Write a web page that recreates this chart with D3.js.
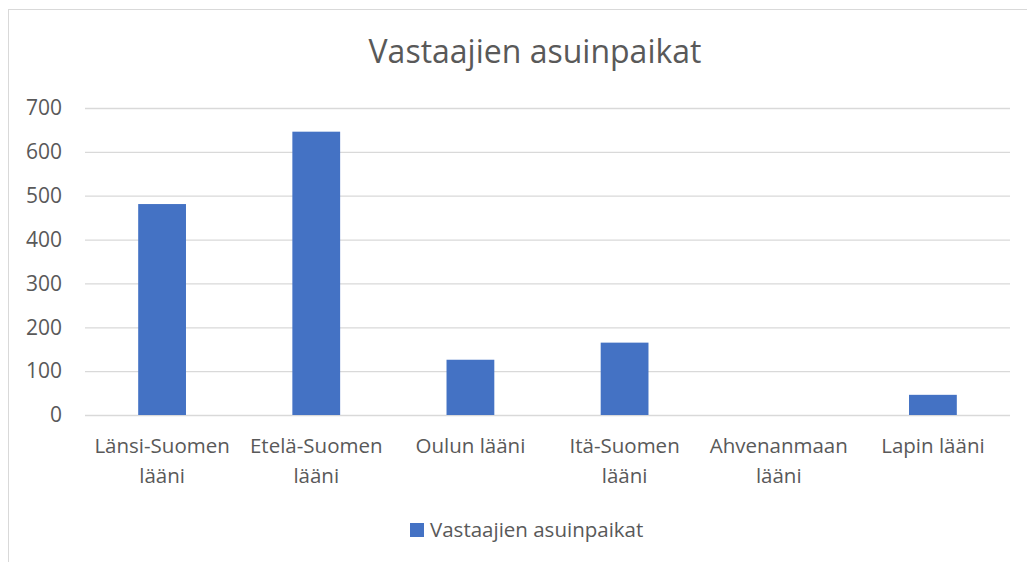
<!DOCTYPE html>
<html>
<head>
<meta charset="utf-8">
<script src="https://cdn.jsdelivr.net/npm/d3@7"></script>
<style>
  body { margin: 0; background: #fff; }
  svg { display: block; font-family: "Open Sans", "Noto Sans", sans-serif; }
</style>
</head>
<body>
<div id="chart"></div>
<script>
// chart data
const categories = ["Länsi-Suomen lääni", "Etelä-Suomen lääni", "Oulun lääni",
                    "Itä-Suomen lääni", "Ahvenanmaan lääni", "Lapin lääni"];
const values = [481, 646, 126, 165, 0, 46];
const yTicks = [0, 100, 200, 300, 400, 500, 600, 700];
const seriesName = "Vastaajien asuinpaikat";
const chartTitle = "Vastaajien asuinpaikat";

const WIDTH = 1027, HEIGHT = 562;
const margin = {top: 108, right: 17, bottom: 147, left: 85};
const textColor = "#595959";

let svg = d3.select("#chart")
    .append("svg")
    .attr("width", WIDTH)
    .attr("height", HEIGHT);

// outer chart border (runs off the right and bottom edges)
svg.append("rect")
    .attr("x", 8.5).attr("y", 9.5)
    .attr("width", WIDTH + 20).attr("height", HEIGHT + 20)
    .attr("fill", "none")
    .attr("stroke", "#d9d9d9");

let x = d3.scaleBand()
    .domain(categories)
    .range([margin.left, WIDTH - margin.right])
    .paddingInner(0.69)
    .paddingOuter(0.345);

let y = d3.scaleLinear()
    .domain([0, 700])
    .range([HEIGHT - margin.bottom, margin.top]);

// gridlines + y labels
let yAxis = svg.append("g")
    .attr("transform", `translate(${margin.left},0)`)
    .call(d3.axisLeft(y).tickValues(yTicks)
        .tickSize(-(WIDTH - margin.left - margin.right))
        .tickPadding(23));
yAxis.select(".domain").remove();
yAxis.selectAll("line").attr("stroke", "#d9d9d9").attr("stroke-width", 1.3);
yAxis.selectAll("text")
    .attr("fill", textColor)
    .style("font-size", "21px")
    .style("font-family", "'Open Sans', sans-serif");

// bars
svg.selectAll("rect.bar")
    .data(values)
    .enter()
    .append("rect")
    .attr("class", "bar")
    .attr("x", (d, i) => x(categories[i]))
    .attr("y", d => y(d))
    .attr("width", x.bandwidth())
    .attr("height", d => y(0) - y(d))
    .attr("fill", "#4472c4");

// category labels, wrapped to the band step
let xAxis = svg.append("g")
    .attr("transform", `translate(0,${y(0)})`)
    .call(d3.axisBottom(x).tickSize(0).tickPadding(0));
xAxis.select(".domain").remove();
xAxis.selectAll("text").each(function(d) {
    let t = d3.select(this);
    t.text(null).attr("y", 0).attr("dy", null)
        .attr("fill", textColor)
        .style("font-size", "20.5px")
        .style("font-family", "'Open Sans', sans-serif");
    let words = d.split(" ");
    let lines = [];
    let cur = [];
    let probe = t.append("tspan");
    words.forEach(w => {
        let trial = cur.concat([w]).join(" ");
        probe.text(trial);
        if (this.getComputedTextLength() > x.step() - 6 && cur.length) {
            lines.push(cur.join(" "));
            cur = [w];
        } else {
            cur.push(w);
        }
    });
    lines.push(cur.join(" "));
    probe.remove();
    lines.forEach((l, k) => {
        t.append("tspan").attr("x", 0).attr("y", 38 + k * 30).text(l);
    });
});

// title
svg.append("text")
    .attr("x", 535)
    .attr("y", 63)
    .attr("text-anchor", "middle")
    .attr("fill", textColor)
    .style("font-size", "32px")
    .text(chartTitle);

// legend
let legend = svg.append("g").attr("transform", "translate(410,523)");
legend.append("rect")
    .attr("width", 14).attr("height", 14)
    .attr("fill", "#4472c4");
legend.append("text")
    .attr("x", 20).attr("y", 14)
    .attr("fill", textColor)
    .style("font-size", "20.5px")
    .text(seriesName);
</script>
</body>
</html>
